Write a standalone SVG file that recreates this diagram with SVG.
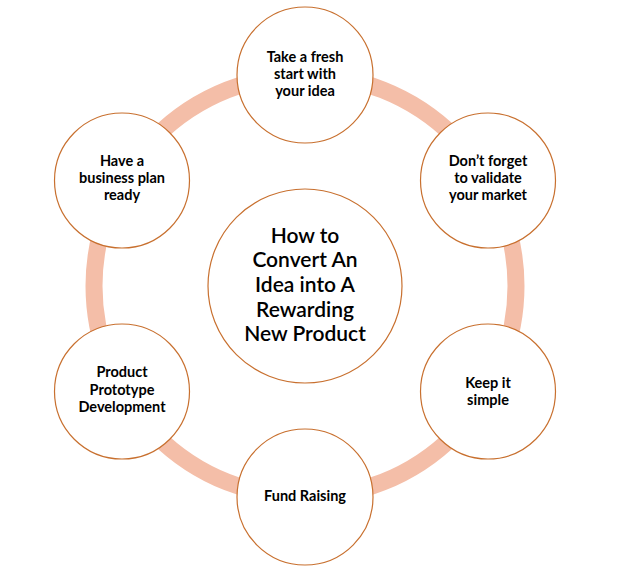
<svg xmlns="http://www.w3.org/2000/svg" width="624" height="572" viewBox="0 0 624 572">
<style>
.node{fill:#FFFFFF;stroke:#C8702F;stroke-width:1.2}
.t{font-family:Lato,"Open Sans","Liberation Sans",sans-serif;font-weight:bold;font-size:14.5px;fill:#000;text-anchor:middle}
.c{font-family:Lato,"Open Sans","Liberation Sans",sans-serif;font-weight:600;font-size:21px;fill:#000;text-anchor:middle}
</style>
<rect width="624" height="572" fill="#FFFFFF"/>
<g id="connectors">
<circle cx="305" cy="286" r="211" fill="none" stroke="#F4BEA8" stroke-width="17"/>
</g>
<g id="center">
<circle class="node" cx="305" cy="286" r="97"/>
<text class="c" x="305" y="243">How to</text>
<text class="c" x="305" y="267">Convert An</text>
<text class="c" x="305" y="292">Idea into A</text>
<text class="c" x="305" y="317">Rewarding</text>
<text class="c" x="305" y="341">New Product</text>
</g>
<g id="n1">
<circle class="node" cx="305" cy="75" r="68"/>
<text class="t" x="305" y="62">Take a fresh</text>
<text class="t" x="305" y="79">start with</text>
<text class="t" x="305" y="96">your idea</text>
</g>
<g id="n2">
<circle class="node" cx="488" cy="180.5" r="67.5"/>
<text class="t" x="488" y="166">Don’t forget</text>
<text class="t" x="488" y="183">to validate</text>
<text class="t" x="488" y="200">your market</text>
</g>
<g id="n3">
<circle class="node" cx="488" cy="391.5" r="67.5"/>
<text class="t" x="488" y="388">Keep it</text>
<text class="t" x="488" y="405">simple</text>
</g>
<g id="n4">
<circle class="node" cx="305" cy="497" r="68"/>
<text class="t" x="305" y="501">Fund Raising</text>
</g>
<g id="n5">
<circle class="node" cx="122" cy="391.5" r="67.5"/>
<text class="t" x="122" y="377">Product</text>
<text class="t" x="122" y="395">Prototype</text>
<text class="t" x="122" y="412">Development</text>
</g>
<g id="n6">
<circle class="node" cx="122" cy="180.5" r="67.5"/>
<text class="t" x="122" y="166">Have a</text>
<text class="t" x="122" y="183">business plan</text>
<text class="t" x="122" y="200">ready</text>
</g>
</svg>
